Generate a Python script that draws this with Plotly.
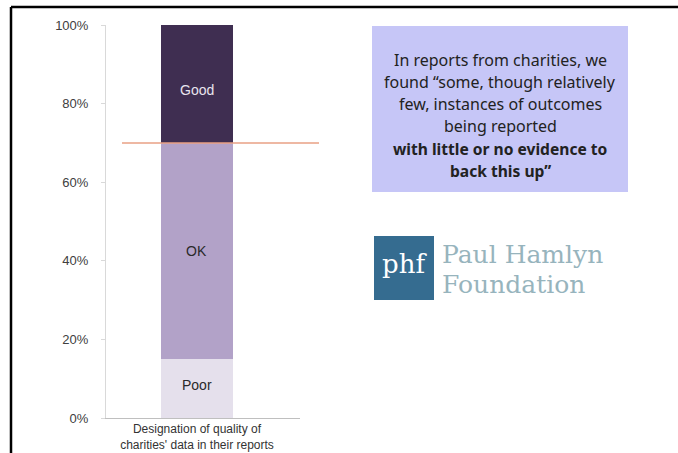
import plotly.graph_objects as go

W, H = 678, 453

category = ["Designation of quality of<br>charities' data in their reports"]
segments = ["Poor", "OK", "Good"]
values = [15, 55, 30]  # percent, stacked
colors = ["#e5e0ec", "#b2a2c8", "#3f2e51"]
label_colors = ["#2a2a2a", "#2a2a2a", "#e8e4ee"]
label_frac = [0.56, 0.5, 0.45]
threshold = 70
y_ticks = [0, 20, 40, 60, 80, 100]
y_tick_text = ["0%", "20%", "40%", "60%", "80%", "100%"]

box_lines = [
    ("In reports from charities, we", False),
    ("found \u201csome, though relatively", False),
    ("few, instances of outcomes", False),
    ("being reported", False),
    ("with little or no evidence to", True),
    ("back this up\u201d", True),
]


def px(x):
    return x / W


def py(y):
    return 1 - y / H


fig = go.Figure()
for name, v, c in zip(segments, values, colors):
    fig.add_trace(go.Bar(x=category, y=[v], name=name, marker=dict(color=c, line=dict(width=0)),
                         width=0.396, showlegend=False, hoverinfo="skip"))

# segment labels
base = 0
for name, v, lc, fr in zip(segments, values, label_colors, label_frac):
    fig.add_annotation(x=category[0], y=base + v * fr, xref="x", yref="y", text=name, showarrow=False,
                       font=dict(family="Liberation Sans, Arial", size=14, color=lc))
    base += v

shapes = [
    dict(type="line", xref="paper", yref="y", x0=px(122), x1=px(319), y0=threshold, y1=threshold,
         line=dict(color="#e9a184", width=1.5)),
    # text box
    dict(type="rect", xref="paper", yref="paper", x0=px(372), x1=px(628), y0=py(192), y1=py(26),
         fillcolor="#c6c6f7", line=dict(width=0), layer="below"),
    # logo square
    dict(type="rect", xref="paper", yref="paper", x0=px(374), x1=px(434), y0=py(300), y1=py(236),
         fillcolor="#356c90", line=dict(width=0)),
    # frame border
    dict(type="line", xref="paper", yref="paper", x0=px(11), x1=px(11), y0=0, y1=py(7),
         line=dict(color="black", width=2.5)),
    dict(type="line", xref="paper", yref="paper", x0=px(11), x1=1, y0=py(7), y1=py(7),
         line=dict(color="black", width=2.5)),
]

line_ys = [60, 82, 104, 126, 149, 171]
for (txt, bold), yy in zip(box_lines, line_ys):
    fig.add_annotation(x=px(500), y=py(yy), xref="paper", yref="paper", showarrow=False,
                       text=f"<b>{txt}</b>" if bold else txt, xanchor="center", yanchor="middle",
                       font=dict(family="Noto Sans, Open Sans", size=16 if not bold else 15.6,
                                 color="#222222"))

fig.add_annotation(x=px(404), y=py(264), xref="paper", yref="paper", showarrow=False, text="phf",
                   font=dict(family="DejaVu Serif, Liberation Serif", size=26, color="white"),
                   xanchor="center", yanchor="middle")
fig.add_annotation(x=px(440), y=py(254), xref="paper", yref="paper", showarrow=False, text="Paul Hamlyn",
                   font=dict(family="DejaVu Serif, Liberation Serif", size=25, color="#97b4bd"),
                   xanchor="left", yanchor="middle")
fig.add_annotation(x=px(440), y=py(284.5), xref="paper", yref="paper", showarrow=False, text="Foundation",
                   font=dict(family="DejaVu Serif, Liberation Serif", size=25, color="#97b4bd"),
                   xanchor="left", yanchor="middle")

fig.update_layout(
    width=W, height=H, barmode="stack", bargap=0,
    margin=dict(l=0, r=0, t=0, b=0, pad=0, autoexpand=False),
    paper_bgcolor="white", plot_bgcolor="white",
    shapes=shapes,
    xaxis=dict(domain=[px(106), px(300)], range=[-0.5, 0.566], showgrid=False, zeroline=False,
               showline=True, linecolor="#bfbfbf", linewidth=1, ticks="", automargin=False,
               tickfont=dict(family="Liberation Sans, Arial", size=12, color="#333333")),
    yaxis=dict(domain=[py(418), py(25)], range=[0, 100], tickvals=y_ticks, ticktext=y_tick_text,
               showgrid=False, zeroline=False, showline=True, linecolor="#d9d9d9", linewidth=1,
               ticks="outside", ticklen=4, tickcolor="#d9d9d9", automargin=False,
               ticklabelstandoff=10,
               tickfont=dict(family="Liberation Sans, Arial", size=13, color="#404040")),
)

fig.write_html("out.html")
